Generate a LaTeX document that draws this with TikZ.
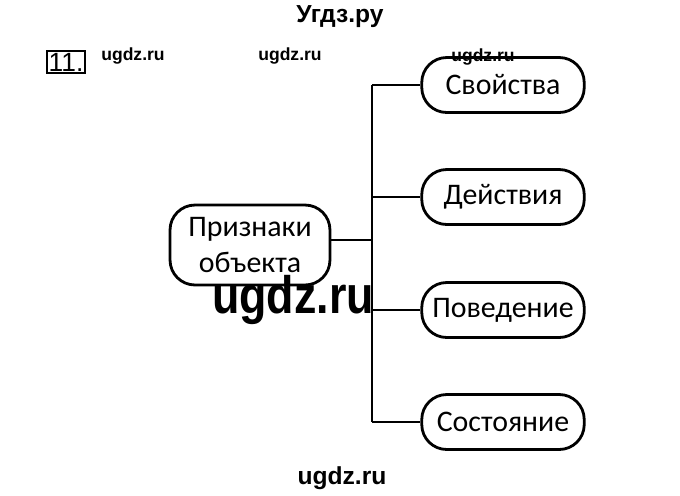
\documentclass[tikz,border=0pt]{standalone}
\usepackage{fontspec}
\setmainfont{Liberation Sans}
\newfontfamily\carlitofont{Carlito}
\begin{document}
\begin{tikzpicture}[x=0.02cm,y=-0.02cm,
  box/.style={draw,line width=1.6pt,rounded corners=0.5cm,minimum width=3.25cm,minimum height=1.1cm,font=\carlitofont\fontsize{17}{21}\selectfont,align=center},
  conn/.style={line width=1.6pt},
  wm/.style={font=\bfseries\fontsize{10}{12}\selectfont}]
\useasboundingbox (0,0) rectangle (680,495);
\node[box,minimum width=3.2cm,minimum height=1.6cm] (p) at (250,245) {Признаки\\объекта};
\node[box] (a) at (503,85) {Свойства};
\node[box] (b) at (503,197) {Действия};
\node[box] (c) at (503,310) {Поведение};
\node[box] (d) at (503,422) {Состояние};
\coordinate (ta) at (372,85);
\coordinate (td) at (372,422);
\coordinate (tp) at (372,240);
\draw[conn] (ta) -- (td);
\draw[conn] (p.east |- tp) -- (tp);
\draw[conn] (ta) -- (a.west);
\draw[conn] (372,197) -- (b.west);
\draw[conn] (372,310) -- (c.west);
\draw[conn] (td) -- (d.west);
\node[draw,line width=0.8pt,inner sep=1pt,font=\fontsize{15}{17}\selectfont\rmfamily] (n) at (66,62) {11.};
\node[font=\bfseries\fontsize{14}{16}\selectfont] (t) at (340,17) {Угдз.ру};
\node[wm] (w1) at (133,56) {ugdz.ru};
\node[wm] (w2) at (290,56) {ugdz.ru};
\node[wm] (w3) at (483,57) {ugdz.ru};
\node[font=\bfseries\fontsize{30}{34}\selectfont,xscale=0.85] (w4) at (293,300) {ugdz.ru};
\node[font=\bfseries\fontsize{14}{16}\selectfont] (w5) at (342,478) {ugdz.ru};
\end{tikzpicture}
\end{document}
